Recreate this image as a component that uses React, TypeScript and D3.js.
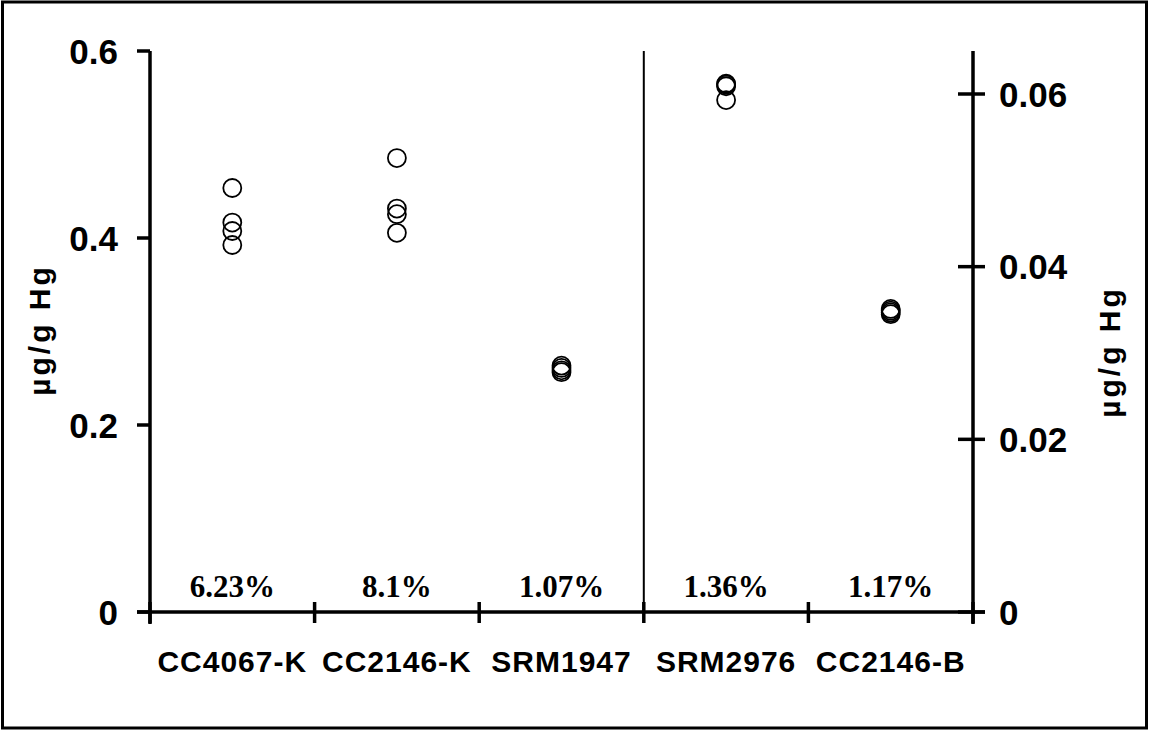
import React from "react";
import * as d3 from "d3";

const categories = ["CC4067-K", "CC2146-K", "SRM1947", "SRM2976", "CC2146-B"];
const percentLabels = ["6.23%", "8.1%", "1.07%", "1.36%", "1.17%"];
const axisSide = ["left", "left", "left", "right", "right"];
const cc4067K = [0.4535, 0.4165, 0.4075, 0.3925];
const cc2146K = [0.4855, 0.4315, 0.4255, 0.4055];
const srm1947 = [0.2635, 0.261, 0.2585, 0.2565];
const srm2976 = [0.0612, 0.0611, 0.0609, 0.0593];
const cc2146B = [0.0351, 0.0349, 0.0347, 0.0345];
const seriesValues = [cc4067K, cc2146K, srm1947, srm2976, cc2146B];
const leftTicks = [0, 0.2, 0.4, 0.6];
const rightTicks = [0, 0.02, 0.04, 0.06];
const leftTickLabels = ["0", "0.2", "0.4", "0.6"];
const rightTickLabels = ["0", "0.02", "0.04", "0.06"];

const W = 1149;
const H = 731;
const X0 = 150;
const X1 = 973;
const Y0 = 612;
const YTOP = 51;

export default function App() {
  const x = d3.scaleBand<string>().domain(categories).range([X0, X1]).padding(0);
  const yL = d3.scaleLinear().domain([0, 0.6]).range([Y0, YTOP]);
  const yR = d3.scaleLinear().domain([0, 0.06]).range([Y0, 94]);
  const sans = "'Liberation Sans', Arial, sans-serif";
  const serif = "'Liberation Serif', 'Times New Roman', serif";
  const boundaries = categories.map((c) => x(c) as number).concat([X1]);
  const divider = x("SRM2976") as number;

  return (
    <svg width={W} height={H} style={{ position: "absolute", left: 0, top: 0 }}>
      <rect x={0} y={0} width={W} height={H} fill="#fff" />
      <rect x={2.5} y={2} width={W - 5} height={H - 5} fill="none" stroke="#000" strokeWidth={3} />

      {/* divider */}
      <line x1={divider} x2={divider} y1={YTOP} y2={Y0} stroke="#000" strokeWidth={2} />

      {/* left axis */}
      <line x1={X0} x2={X0} y1={YTOP} y2={Y0 + 12} stroke="#000" strokeWidth={3.5} />
      {leftTicks.map((t, i) => (
        <g key={"lt" + i}>
          <line x1={X0 - 13} x2={X0} y1={yL(t)} y2={yL(t)} stroke="#000" strokeWidth={3.5} />
          <text x={118} y={yL(t)} dy="0.36em" textAnchor="end" fontFamily={sans} fontWeight="bold" fontSize={35}>
            {leftTickLabels[i]}
          </text>
        </g>
      ))}

      {/* right axis */}
      <line x1={X1} x2={X1} y1={YTOP} y2={Y0 + 12} stroke="#000" strokeWidth={3.5} />
      {rightTicks.map((t, i) => (
        <g key={"rt" + i}>
          <line x1={X1 - 15} x2={X1 + 12} y1={yR(t)} y2={yR(t)} stroke="#000" strokeWidth={3.5} />
          <text x={999} y={yR(t)} dy="0.36em" textAnchor="start" fontFamily={sans} fontWeight="bold" fontSize={35}>
            {rightTickLabels[i]}
          </text>
        </g>
      ))}

      {/* x axis */}
      <line x1={X0 - 13} x2={X1 + 12} y1={Y0} y2={Y0} stroke="#000" strokeWidth={3.5} />
      {boundaries.map((b, i) => (
        <line key={"xt" + i} x1={b} x2={b} y1={Y0 - 10} y2={Y0 + 11} stroke="#000" strokeWidth={3.5} />
      ))}
      {categories.map((c) => (
        <text
          key={"cl" + c}
          x={(x(c) as number) + x.bandwidth() / 2}
          y={672}
          textAnchor="middle"
          fontFamily={sans}
          fontWeight="bold"
          fontSize={30}
          letterSpacing={1}
        >
          {c}
        </text>
      ))}
      {categories.map((c, i) => (
        <text
          key={"pl" + c}
          x={(x(c) as number) + x.bandwidth() / 2}
          y={597}
          textAnchor="middle"
          fontFamily={serif}
          fontWeight="bold"
          fontSize={31}
        >
          {percentLabels[i]}
        </text>
      ))}

      {/* points */}
      {categories.map((c, i) =>
        seriesValues[i].map((v, j) => (
          <circle
            key={c + j}
            cx={(x(c) as number) + x.bandwidth() / 2}
            cy={axisSide[i] === "left" ? yL(v) : yR(v)}
            r={9}
            fill="none"
            stroke="#000"
            strokeWidth={1.8}
          />
        ))
      )}

      {/* axis titles */}
      <text
        transform={`translate(50,330) rotate(-90)`}
        textAnchor="middle"
        fontFamily={sans}
        fontWeight="bold"
        fontSize={30}
        letterSpacing={3}
      >
        µg/g Hg
      </text>
      <text
        transform={`translate(1120,352) rotate(-90)`}
        textAnchor="middle"
        fontFamily={sans}
        fontWeight="bold"
        fontSize={30}
        letterSpacing={3}
      >
        µg/g Hg
      </text>
    </svg>
  );
}
